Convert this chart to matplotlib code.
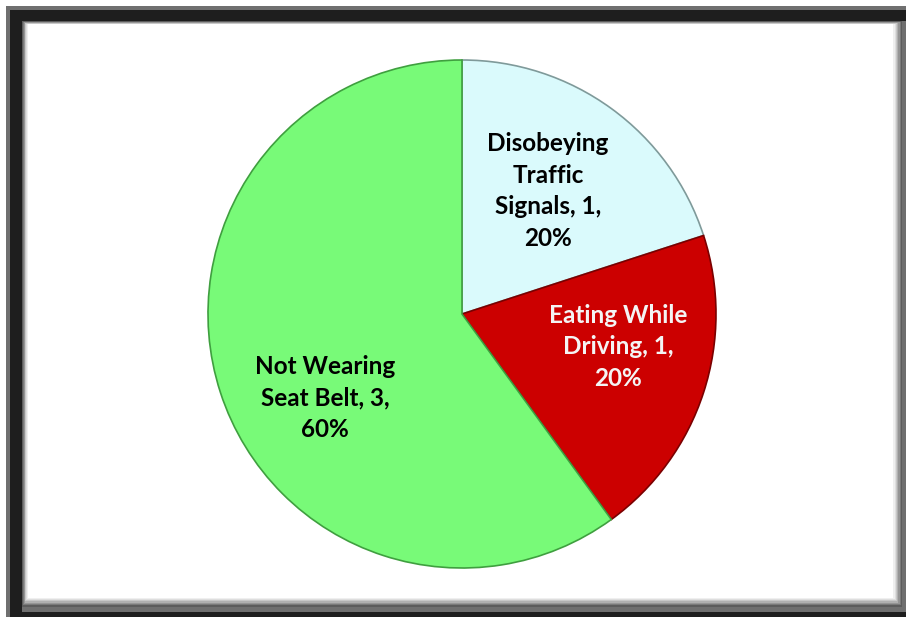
import matplotlib
matplotlib.use("Agg")
import matplotlib.pyplot as plt
from matplotlib.patches import Rectangle

# --- Data ---
labels = ["Disobeying\nTraffic\nSignals, 1,\n20%",
          "Eating While\nDriving, 1,\n20%",
          "Not Wearing\nSeat Belt, 3,\n60%"]
values = [1, 1, 3]
colors = ["#dafafc", "#cc0000", "#78fa78"]
edge_colors = ["#7f9a9a", "#7a0000", "#3f9f3f"]
text_colors = ["#000000", "#f4f4f4", "#000000"]

W, H = 906, 617
fig = plt.figure(figsize=(W / 100, H / 100), dpi=100)
ax = fig.add_axes([0, 0, 1, 1])
ax.set_xlim(0, W)
ax.set_ylim(0, H)
ax.axis("off")


def rect(x0, y0, x1, y1, color):
    # image coords (y down) -> data coords
    ax.add_patch(Rectangle((x0, H - y1), x1 - x0, y1 - y0, facecolor=color,
                           edgecolor="none", zorder=1))


# --- Frame ---
rect(6, 6, W, H, "#6f6f6f")
rect(10, 10, 22, H, "#1e1e1e")
rect(10, 10, W, 21, "#1e1e1e")
rect(18, 612, W, H, "#1e1e1e")
rect(22, 21, 902, 607, "#5c5c5c")
shades = ["#7a7a7a", "#959595", "#b0b0b0", "#c8c8c8", "#dedede", "#efefef", "#ffffff"]
for i, c in enumerate(shades):
    rect(23 + i * 0.8, 22 + i * 0.4, 901 - i * 1.3, 605 - i * 1.2, c)

# --- Pie ---
cx, cy, r = 462, 314, 254
wedges, _ = ax.pie(values, colors=colors, startangle=90, counterclock=False,
                   center=(cx, H - cy), radius=r, frame=True,
                   wedgeprops=dict(linewidth=1.2))
for w, ec in zip(wedges, edge_colors):
    w.set_edgecolor(ec)
    w.set_zorder(2)
ax.set_xlim(0, W)
ax.set_ylim(0, H)
ax.axis("off")

label_pos = [(548, 191), (618, 347), (325, 398)]
for lab, (x, y), tc in zip(labels, label_pos, text_colors):
    ax.text(x, H - y, lab, ha="center", va="center", color=tc,
            fontsize=17.5, fontweight="bold", family=["Lato", "DejaVu Sans"],
            linespacing=1.45, zorder=3)

plt.savefig("out.png", dpi=100)
plt.close()
